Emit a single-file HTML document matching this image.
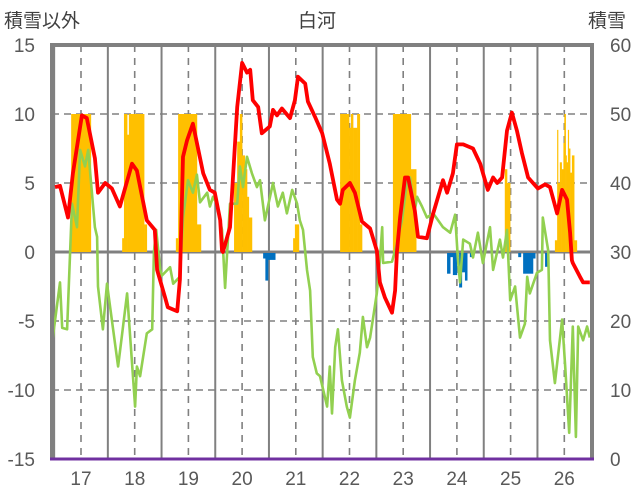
<!DOCTYPE html>
<html><head><meta charset="utf-8"><style>
body{margin:0;background:#fff;}
svg{display:block;font-family:"Liberation Sans","Noto Sans CJK JP",sans-serif;}
</style></head><body>
<svg id="chart" width="636" height="501" viewBox="0 0 636 501" xmlns="http://www.w3.org/2000/svg">
<rect width="636" height="501" fill="#fff"/>
<g id="grid"></g><g id="bars"></g><g id="lines"></g><g id="frame"></g><g id="labels"></g>
</svg>
<script>
const yearLabels=["17","18","19","20","21","22","23","24","25","26"];
const leftTicks=[15,10,5,0,-5,-10,-15];
const rightTicks=[60,50,40,30,20,10,0];
const redT=[-5.8,-4.7,-2.9,-1.8,0.2,1.3,3.1,3.8,5.4,6.9,8.7,11.4,12.5,14.7,16.5,17.0,18.8,19.4,21.5,22.1,22.8,23.7,25.0,27.3,28.8,29.9,31.1,31.5,31.7,33.3,34.9,36.0,37.1,37.8,38.4,39.6,40.4,42.2,42.9,43.8,44.9,46.7,47.8,48.5,50.1,50.7,52.3,53.9,55.6,57.2,57.9,58.5,60.1,61.2,62.8,64.6,66.1,66.8,67.9,69.5,70.2,70.6,71.3,72.4,73.1,74.6,75.3,77.3,78.7,80.9,81.8,83.1,84.0,85.4,87.6,89.2,90.9,92.1,93.0,94.1,95.2,96.3,97.4,98.5,99.9,102.1,103.7,104.8,106.4,107.5,108.6,109.3,109.7,109.9,111.5,112.2,113.7];
const redV=[4.7,4.8,2.5,5.7,9.9,9.7,6.8,4.3,5,4.6,3.3,6.4,5.9,2.3,1.6,-1.3,-3.3,-4,-4.3,-2,6.9,8.1,9.3,5.7,4.5,4.3,2.3,0.1,0,1.8,10.5,13.7,13,13.2,11,10.5,8.6,9.1,10.3,9.9,10.4,9.7,11,12.7,12.2,10.9,9.8,8.6,6.4,3.8,3.5,4.5,5,4.3,2.2,1.7,0.1,-2.2,-3.3,-4.4,-2.8,0,2.5,5.4,5.4,3,1.1,1,2.8,5.2,4.3,5.7,7.8,7.8,7.5,6.4,4.5,5.4,5,5.4,8.8,10.1,8.8,7.2,5.4,4.6,4.9,4.7,2.8,4.5,3.8,1.4,-0.6,-0.8,-1.8,-2.2,-2.2];
const greenT=[-6.3,-4.7,-4.2,-3.1,-2.0,-0.9,-0.2,0.9,1.6,3.1,3.6,3.8,4.9,5.8,8.3,9.2,10.3,12.1,12.5,13.2,14.7,15.9,16.3,16.8,17.7,18.1,19.9,20.6,22.1,22.8,23.9,25.0,25.9,26.6,28.2,28.8,29.5,30.4,31.5,32.2,33.3,34.9,35.5,36.2,37.1,38.2,39.3,40.0,41.1,42.9,44.0,45.1,46.0,47.2,48.3,48.9,49.6,50.5,51.2,51.8,52.7,53.4,55.0,55.6,56.1,56.8,57.4,58.3,59.4,60.1,61.2,62.3,63.0,63.9,64.6,66.1,66.8,67.3,67.5,69.5,70.6,71.7,72.8,73.5,74.6,75.1,76.2,77.3,78.7,80.9,82.5,83.6,84.2,84.7,85.4,86.9,87.6,88.7,89.8,91.4,92.1,93.6,94.3,95.2,95.9,97.0,98.1,99.2,99.7,100.3,101.9,103.0,103.2,104.4,104.8,105.9,107.5,108.2,109.1,109.9,110.6,111.1,112.2,113.1,113.7];
const greenV=[-6.2,-2.2,-5.5,-5.6,3.5,1.8,7.4,6.2,7.4,1.8,1.1,-2.5,-5.6,-2.3,-8.3,-5.9,-3,-11.2,-8.3,-9,-5.9,-5.6,0,1.6,-1.3,-1.7,-1.1,-2.3,-1.8,2.5,5.2,4.3,5.6,3.6,4.3,3.3,4,3.5,1.6,-2.6,3.5,3.5,6.2,4.7,6.9,5.7,4.7,5.2,2.3,5,3.3,4.3,2.8,4.5,3.5,2.3,1.6,-1.3,-2.8,-7.6,-8.8,-9,-11.2,-8.3,-11.7,-6.9,-5.6,-9.3,-11.2,-12,-9.3,-7.3,-4.7,-6.9,-6.2,-3,-0.6,1.8,-0.8,-0.7,0.6,2.3,5,5.4,3,4,3.3,2.5,2.8,1.8,1.4,2.7,-0.4,-2.2,0.9,0.6,-0.4,1.4,-0.8,1.8,-1.3,0.9,-0.4,1.6,-3.5,-2.5,-6.2,-5.2,-1.8,-3,-1.5,-1.3,2.5,0.1,-6.4,-9.5,-4.9,-8.3,-13.1,-5.4,-13.4,-5.4,-6.4,-5.4,-6.2];
const snowStart=[-2.2,9.2,9.6,10.3,10.7,14.1,21.2,21.7,25.9,34.2,34.9,35.5,36.0,36.6,37.1,37.5,47.4,47.8,57.9,59.9,60.3,60.8,61.7,62.3,69.7,73.7,94.7,95.2,105.9,106.4,106.6,107.0,107.4,107.8,108.0,108.3,108.5,108.8,109.0,109.3,109.7,110.2];
const snowEnd=[2.2,9.6,10.3,10.7,14.1,14.7,21.7,25.9,26.8,34.9,35.5,36.0,36.6,37.1,37.5,38.2,47.8,48.7,59.9,60.3,60.8,61.7,62.3,62.8,73.7,74.9,95.2,95.9,106.4,106.6,107.0,107.4,107.8,108.0,108.3,108.5,108.8,109.0,109.3,109.7,110.2,110.8];
const snowVal=[50,32,50,47,50,34,32,50,34,40,46,50,44,42,38,35,32,34,50,48,50,48,50,34,50,42,42,40,31.7,47.7,40,43,42,45.8,50,44,43,47.7,45,41.5,44,31.7];
const blueStart=[40.7,41.2,41.8,81.8,82.5,83.1,84.5,85.1,85.8,86.9,97.7,98.8,101.0,103.7];
const blueEnd=[41.2,41.8,43.4,82.5,83.1,84.0,85.1,85.8,86.3,87.6,98.3,101.0,101.5,104.4];
const blueVal=[-0.4,-2.0,-0.5,-1.5,-0.3,-1.6,-2.5,-1.4,-2.0,-0.3,-0.3,-1.5,-0.4,-1.0];

const NS="http://www.w3.org/2000/svg";
const L=52,R=592,T=45,B=459;
const X0=81,PX_M=4.475;
function xs(m){return X0+m*PX_M;}
function yl(v){return 252-(v)*(B-T)/30;}
function yr(v){return B-v*(B-T)/60;}
function mk(tag,attrs,parent){const e=document.createElementNS(NS,tag);for(const k in attrs)e.setAttribute(k,attrs[k]);parent.appendChild(e);return e;}
const grid=document.getElementById('grid'),bars=document.getElementById('bars'),lines=document.getElementById('lines'),frame=document.getElementById('frame'),labels=document.getElementById('labels');

leftTicks.forEach(v=>{
  if(v===15||v===-15)return;
  const g=mk('line',{x1:L,x2:R,y1:yl(v),y2:yl(v),stroke:'#808080','stroke-width':v===0?3:1.6,'stroke-dasharray':v===0?'none':'7,5'},grid);
  
  
});
yearLabels.forEach((y,i)=>{
  const d=mk('line',{x1:xs(i*12),x2:xs(i*12),y1:T,y2:B,stroke:'#808080','stroke-width':1.6,'stroke-dasharray':'7,6'},grid);
  
  
  const s=mk('line',{x1:xs(i*12-6),x2:xs(i*12-6),y1:T,y2:B,stroke:'#808080','stroke-width':2},grid);
  
  
  const t=mk('text',{x:xs(i*12),y:485,'text-anchor':'middle','font-size':19,fill:'#595959'},labels);
  t.textContent=y;
  
  
});
{const s=mk('line',{x1:xs(114),x2:xs(114),y1:T,y2:B,stroke:'#808080','stroke-width':2},grid);}

snowVal.forEach((v,i)=>{
  const x1=xs(snowStart[i]),x2=xs(snowEnd[i]);
  const r=mk('rect',{x:x1,y:yr(v),width:x2-x1+0.3,height:yr(30)-yr(v),fill:'#FFC000'},bars);
  
  
});
blueVal.forEach((v,i)=>{
  const x1=xs(blueStart[i]),x2=xs(blueEnd[i]);
  const r=mk('rect',{x:x1,y:yl(0)+1,width:x2-x1+0.3,height:yl(v)-yl(0),fill:'#0070C0'},bars);
  
  
});
function path(T_,V_,color,w,name){
  const d=T_.map((t,i)=>(i?'L':'M')+xs(t).toFixed(1)+','+yl(V_[i]).toFixed(1)).join('');
  const p=mk('path',{d:d,fill:'none',stroke:color,'stroke-width':w,'stroke-linejoin':'round'},lines);
  
  
}
path(greenT,greenV,'#92D050',2.6,'green-series-line');
path(redT,redV,'#FF0000',3.8,'red-series-line');

const fr=mk('path',{d:`M${L},${B}L${L},${T}L${R},${T}L${R},${B}`,fill:'none',stroke:'#808080','stroke-width':4},frame);


const bl=mk('line',{x1:L-2,x2:R+2,y1:B,y2:B,stroke:'#7030A0','stroke-width':3},frame);



leftTicks.forEach(v=>{
  const t=mk('text',{x:35,y:yl(v)+7,'text-anchor':'end','font-size':19,fill:'#595959'},labels);
  t.textContent=String(v);
  
  
});
rightTicks.forEach(v=>{
  const t=mk('text',{x:610,y:yr(v)+7,'text-anchor':'start','font-size':19,fill:'#595959'},labels);
  t.textContent=String(v);
  
  
});
</script>
<svg width="0" height="0" style="position:absolute"></svg>
<div style="position:absolute;left:0;top:0;width:636px;height:501px;pointer-events:none;font-family:'Liberation Sans','Noto Sans CJK JP',sans-serif;color:#404040;font-size:19px;">
<div style="position:absolute;left:4px;top:6px;">積雪以外</div>
<div style="position:absolute;left:298px;top:6px;">白河</div>
<div style="position:absolute;left:588px;top:6px;">積雪</div>
</div>
</body></html>
